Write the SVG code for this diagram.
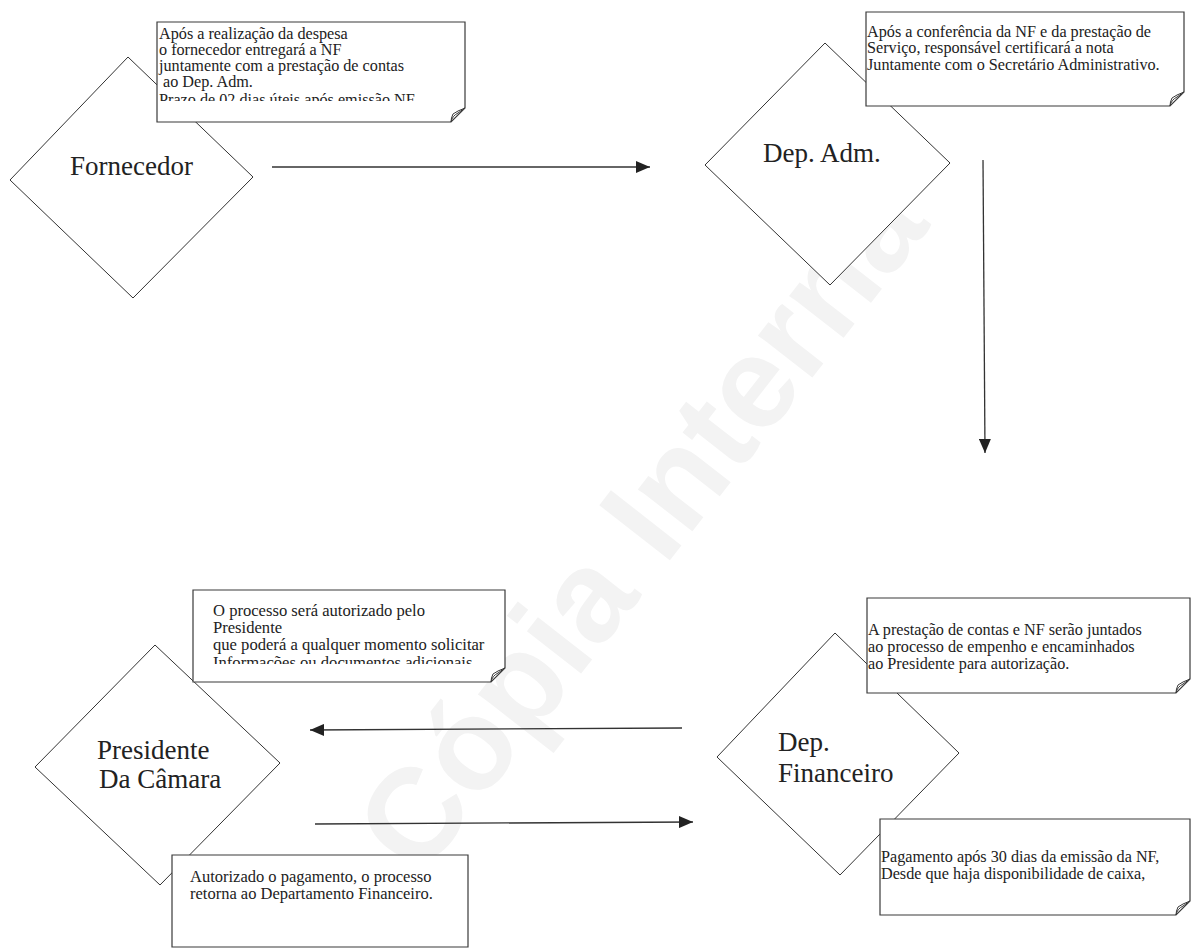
<svg xmlns="http://www.w3.org/2000/svg" width="1192" height="951" viewBox="0 0 1192 951">
<style>
.bg{fill:#ffffff}
.dia{fill:#ffffff;stroke:#333333;stroke-width:1}
.note{fill:#ffffff;stroke:#3a3a3a;stroke-width:1.2}
.fold{fill:#ffffff;stroke:#3a3a3a;stroke-width:1}
.lbl{font-family:"Liberation Serif","Times New Roman",serif;font-size:27px;fill:#222222}
.nt{font-family:"Liberation Serif","Times New Roman",serif;font-size:16.2px;fill:#222222}
.conn{stroke:#333333;stroke-width:1.3;fill:none}
.wm{font-family:"Liberation Sans",Arial,sans-serif;font-size:130px;font-weight:bold;fill:#f3f3f3}
</style>
<defs>
<marker id="ah" viewBox="0 0 14 12" refX="14" refY="6" markerWidth="14" markerHeight="12" markerUnits="userSpaceOnUse" orient="auto">
<path d="M0,0 L14,6 L0,12 Z" fill="#222222"/>
</marker>
<clipPath id="c1"><rect x="150" y="20" width="320" height="81"/></clipPath>
<clipPath id="c3"><rect x="190" y="588" width="320" height="76"/></clipPath>
</defs>
<rect class="bg" x="0" y="0" width="1192" height="951"/>
<text class="wm" transform="translate(420,880) rotate(-52)">Cópia Interna</text>

<g id="connectors">
<line class="conn" x1="272" y1="167" x2="650" y2="167" marker-end="url(#ah)"/>
<line class="conn" x1="983" y1="160" x2="985" y2="453" marker-end="url(#ah)"/>
<line class="conn" x1="682" y1="728" x2="310" y2="730" marker-end="url(#ah)"/>
<line class="conn" x1="315" y1="824" x2="693" y2="822" marker-end="url(#ah)"/>
</g>

<g id="fornecedor">
<polygon class="dia" points="128,57 253,177 133,298 10,180"/>
<text class="lbl" x="70" y="175">Fornecedor</text>
</g>

<g id="dep-adm">
<polygon class="dia" points="825,43 950,163 830,285 705,165"/>
<text class="lbl" x="763" y="162">Dep. Adm.</text>
</g>

<g id="presidente">
<polygon class="dia" points="155,645 280,763 160,885 35,767"/>
<text class="lbl" x="97" y="759">Presidente</text>
<text class="lbl" x="99" y="788">Da Câmara</text>
</g>

<g id="dep-financeiro">
<polygon class="dia" points="835,633 959,753 840,875 717,757"/>
<text class="lbl" x="778" y="751">Dep.</text>
<text class="lbl" x="778" y="782">Financeiro</text>
</g>

<g id="note-fornecedor">
<path class="note" d="M157,22 H465 V108 L451,122 H157 Z"/>
<path class="fold" d="M465,108 Q457,111 453,114 Q451,118 451,122 Q452,116 458,113 Z"/>
<g clip-path="url(#c1)">
<text class="nt" x="159" y="39">Após a realização da despesa</text>
<text class="nt" x="159" y="55">o fornecedor entregará a NF</text>
<text class="nt" x="159" y="71">juntamente com a prestação de contas</text>
<text class="nt" x="163" y="87">ao Dep. Adm.</text>
<text class="nt" x="159" y="105">Prazo de 02 dias úteis após emissão NF</text>
</g>
</g>

<g id="note-dep-adm">
<path class="note" d="M866,12 H1184 V92 L1170,106 H866 Z"/>
<path class="fold" d="M1184,92 Q1176,95 1172,98 Q1170,102 1170,106 Q1171,100 1177,97 Z"/>
<text class="nt" x="867" y="37">Após a conferência da NF e da prestação de</text>
<text class="nt" x="867" y="53">Serviço, responsável certificará a nota</text>
<text class="nt" x="867" y="70">Juntamente com o Secretário Administrativo.</text>
</g>

<g id="note-presidente">
<path class="note" d="M193,590 H505 V668 L491,682 H193 Z"/>
<path class="fold" d="M505,668 Q497,671 493,674 Q491,678 491,682 Q492,676 498,673 Z"/>
<g clip-path="url(#c3)">
<text class="nt" x="213" y="616" style="font-size:16.6px">O processo será autorizado pelo</text>
<text class="nt" x="213" y="633" style="font-size:16.6px">Presidente</text>
<text class="nt" x="213" y="650" style="font-size:16.6px">que poderá a qualquer momento solicitar</text>
<text class="nt" x="213" y="668" style="font-size:16.6px">Informações ou documentos adicionais</text>
</g>
</g>

<g id="note-dep-financeiro">
<path class="note" d="M867,598 H1190 V679 L1176,693 H867 Z"/>
<path class="fold" d="M1190,679 Q1182,682 1178,685 Q1176,689 1176,693 Q1177,687 1183,684 Z"/>
<text class="nt" x="868" y="635" style="font-size:16.2px">A prestação de contas e NF serão juntados</text>
<text class="nt" x="868" y="652" style="font-size:16.2px">ao processo de empenho e encaminhados</text>
<text class="nt" x="868" y="669" style="font-size:16.2px">ao Presidente para autorização.</text>
</g>

<g id="note-autorizado">
<path class="note" d="M172,855 H468 V947 H172 Z"/>
<text class="nt" x="190" y="882" style="font-size:16.5px">Autorizado o pagamento, o processo</text>
<text class="nt" x="190" y="899" style="font-size:16.5px">retorna ao Departamento Financeiro.</text>
</g>

<g id="note-pagamento">
<path class="note" d="M880,819 H1190 V901 L1176,915 H880 Z"/>
<path class="fold" d="M1190,901 Q1182,904 1178,907 Q1176,911 1176,915 Q1177,909 1183,906 Z"/>
<text class="nt" x="881" y="862" style="font-size:16.2px">Pagamento após 30 dias da emissão da NF,</text>
<text class="nt" x="881" y="879" style="font-size:16.2px">Desde que haja disponibilidade de caixa,</text>
</g>
</svg>
